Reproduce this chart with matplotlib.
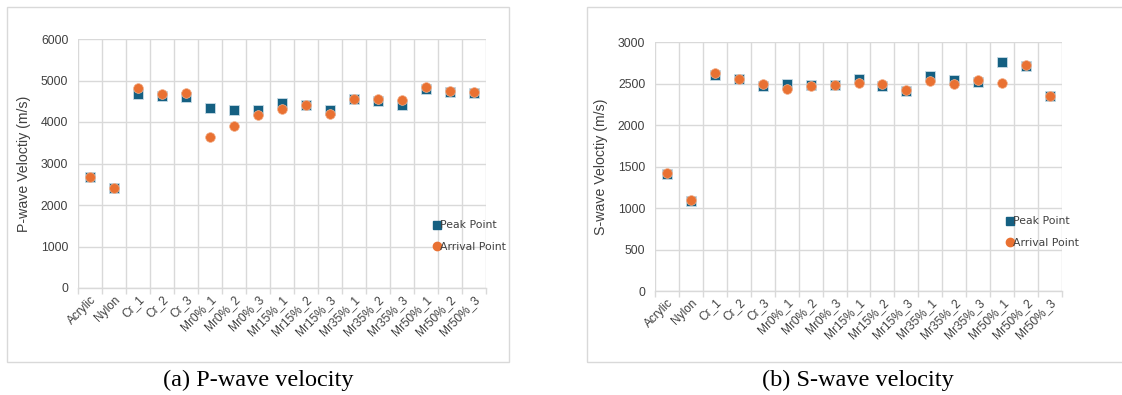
import numpy as np
import matplotlib.pyplot as plt
from matplotlib.patches import Rectangle
from matplotlib.lines import Line2D

# sample names shared by both panels
samples = ["Acrylic", "Nylon", "Cr_1", "Cr_2", "Cr_3",
           "Mr0%_1", "Mr0%_2", "Mr0%_3",
           "Mr15%_1", "Mr15%_2", "Mr15%_3",
           "Mr35%_1", "Mr35%_2", "Mr35%_3",
           "Mr50%_1", "Mr50%_2", "Mr50%_3"]

# P-wave velocity (m/s)
p_peak = [2680, 2410, 4670, 4615, 4610, 4335, 4300, 4290, 4455,
          4400, 4295, 4560, 4495, 4410, 4790, 4720, 4690]
p_arrival = [2670, 2400, 4830, 4680, 4705, 3640, 3905, 4175, 4310,
             4410, 4200, 4550, 4550, 4535, 4840, 4750, 4720]

# S-wave velocity (m/s)
s_peak = [1410, 1090, 2600, 2555, 2465, 2490, 2485, 2480, 2560,
          2470, 2410, 2590, 2545, 2520, 2765, 2710, 2350]
s_arrival = [1425, 1100, 2627, 2560, 2500, 2435, 2465, 2485, 2508,
             2495, 2423, 2535, 2495, 2548, 2508, 2720, 2350]

W, H = 1122, 395
BLUE = "#156082"
ORANGE = "#E97132"
GRID = "#D9D9D9"
TXT = "#404040"

fig = plt.figure(figsize=(W / 100, H / 100), dpi=100)
fig.patch.set_facecolor("white")


def px_axes(x0, y0, x1, y1):
    return fig.add_axes([x0 / W, 1 - y1 / H, (x1 - x0) / W, (y1 - y0) / H])


def frame(x0, y0, x1, y1):
    fig.patches.append(Rectangle((x0 / W, 1 - y1 / H), (x1 - x0) / W, (y1 - y0) / H,
                                 transform=fig.transFigure, fill=False,
                                 edgecolor=GRID, lw=1.0))


def panel(ax, peak, arrival, ymax, ystep, ylabel, leg_xy):
    n = len(samples)
    xs = np.arange(n) + 0.5
    ax.set_xlim(0, n)
    ax.set_ylim(0, ymax)
    ax.set_yticks(np.arange(0, ymax + 1, ystep))
    ax.set_xticks(np.arange(n + 1))
    ax.set_xticks(xs, minor=True)
    ax.set_xticklabels([])
    ax.set_xticklabels(samples, minor=True, rotation=45, ha="right",
                       rotation_mode="anchor", fontsize=8.6, color=TXT,
                       family="Liberation Sans")
    ax.tick_params(axis="x", which="minor", length=0, pad=4)
    ax.tick_params(axis="x", which="major", length=4, color=GRID, width=1)
    ax.tick_params(axis="y", length=0, labelsize=8.8, labelcolor=TXT, pad=7)
    for lab in ax.get_yticklabels():
        lab.set_family("Liberation Sans")
    ax.grid(True, color=GRID, lw=1.0)
    ax.set_axisbelow(True)
    for s in ["top", "right", "left"]:
        ax.spines[s].set_visible(False)
    ax.spines["bottom"].set_color(GRID)
    ax.spines["bottom"].set_linewidth(1.0)
    ax.set_ylabel(ylabel, fontsize=10.2, color=TXT, family="Liberation Sans", labelpad=7)

    ax.plot(xs, peak, ls="none", marker="s", ms=7.2, mfc=BLUE, mec="#C9DCE6",
            mew=0.6, label="Peak Point", clip_on=False, zorder=3)
    ax.plot(xs, arrival, ls="none", marker="o", ms=7.0, mfc=ORANGE, mec="#F2B08C",
            mew=0.5, label="Arrival Point", clip_on=False, zorder=4)

    handles = [Line2D([], [], ls="none", marker="s", ms=6, mfc=BLUE, mec=BLUE),
               Line2D([], [], ls="none", marker="o", ms=6, mfc=ORANGE, mec=ORANGE)]
    leg = ax.legend(handles, ["Peak Point", "Arrival Point"], loc="upper left",
                    bbox_to_anchor=leg_xy, bbox_transform=fig.transFigure,
                    frameon=False, fontsize=7.8, handlelength=0.6,
                    handletextpad=0.05, labelspacing=1.05, borderpad=0)
    for t in leg.get_texts():
        t.set_color(TXT)


# panel (a)
frame(7, 7, 509, 362)
ax1 = px_axes(78, 39, 486, 288)
panel(ax1, p_peak, p_arrival, 6000, 1000, "P-wave Veloctiy (m/s)",
      (428 / W, 1 - 215 / H))
fig.text(258 / W, 1 - 380 / H, "(a) P-wave velocity", ha="center", va="center",
         fontsize=17.5, family="Liberation Serif", color="black")

# panel (b)
frame(587, 7, 1130, 362)
ax2 = px_axes(655, 42, 1062, 291)
panel(ax2, s_peak, s_arrival, 3000, 500, "S-wave Veloctiy (m/s)",
      (1001 / W, 1 - 211 / H))
fig.text(858 / W, 1 - 380 / H, "(b) S-wave velocity", ha="center", va="center",
         fontsize=17.5, family="Liberation Serif", color="black")

fig.savefig("out.png", dpi=100, facecolor="white")
